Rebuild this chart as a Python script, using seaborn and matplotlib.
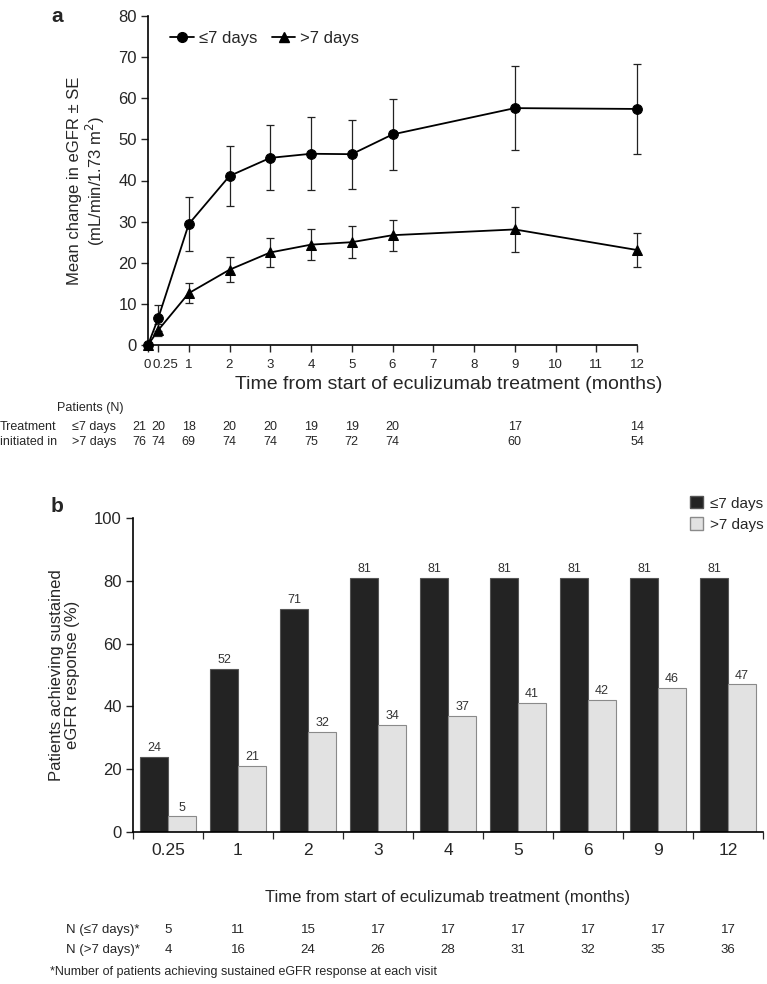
import numpy as np
import pandas as pd
import matplotlib
matplotlib.use("Agg")
import matplotlib.pyplot as plt
from matplotlib.lines import Line2D
from matplotlib.patches import Patch
import matplotlib.transforms as mtransforms
import seaborn as sns

# ---------------- data ----------------
months_a = [0, 0.25, 1, 2, 3, 4, 5, 6, 9, 12]
early_mean = [0, 6.5, 29.4, 41.1, 45.5, 46.5, 46.4, 51.2, 57.6, 57.4]
early_se = [0, 3.2, 6.5, 7.3, 7.9, 8.9, 8.4, 8.7, 10.2, 11.0]
late_mean = [0, 3.6, 12.6, 18.3, 22.5, 24.4, 25.0, 26.7, 28.1, 23.1]
late_se = [0, 1.5, 2.5, 3.1, 3.6, 3.8, 3.9, 3.8, 5.4, 4.2]
n_early_a = [21, 20, 18, 20, 20, 19, 19, 20, 17, 14]
n_late_a = [76, 74, 69, 74, 74, 75, 72, 74, 60, 54]
xticks_a = [0, 0.25, 1, 2, 3, 4, 5, 6, 7, 8, 9, 10, 11, 12]
xticklabels_a = ["0", "0.25", "1", "2", "3", "4", "5", "6", "7", "8", "9", "10", "11", "12"]

months_b = ["0.25", "1", "2", "3", "4", "5", "6", "9", "12"]
pct_early = [24, 52, 71, 81, 81, 81, 81, 81, 81]
pct_late = [5, 21, 32, 34, 37, 41, 42, 46, 47]
n_early_b = [5, 11, 15, 17, 17, 17, 17, 17, 17]
n_late_b = [4, 16, 24, 26, 28, 31, 32, 35, 36]

groups = ["\u22647 days", ">7 days"]

# ---------------- style ----------------
sns.set_theme(style="ticks")
plt.rcParams["font.family"] = ["Liberation Sans", "DejaVu Sans"]

W, H = 767, 984
fig = plt.figure(figsize=(W / 100, H / 100), dpi=100)

def fx(px):
    return px / W

def fy(py):
    return 1 - py / H

# ---------------- panel a ----------------
axa = fig.add_axes([fx(148), fy(345), fx(637) - fx(148), fy(16) - fy(345)])
df_a = pd.DataFrame({
    "month": months_a * 2,
    "value": early_mean + late_mean,
    "se": early_se + late_se,
    "group": [groups[0]] * len(months_a) + [groups[1]] * len(months_a),
})
sns.lineplot(data=df_a, x="month", y="value", hue="group", style="group",
             palette={groups[0]: "black", groups[1]: "black"},
             markers={groups[0]: "o", groups[1]: "^"}, dashes=False,
             markersize=7, linewidth=1.3, markeredgecolor="black",
             legend=False, ax=axa, clip_on=False, zorder=3)
for g in groups:
    sub = df_a[df_a["group"] == g]
    cont = axa.errorbar(sub["month"][1:], sub["value"][1:], yerr=sub["se"][1:], fmt="none",
                        ecolor="#222222", elinewidth=0.9, capsize=3, capthick=0.9, zorder=2)
    for art in cont.lines[1]:
        art.set_clip_on(False)
    for art in cont.lines[2]:
        art.set_clip_on(False)

axa.set_xlim(0, 12)
axa.set_ylim(0, 80)
axa.set_yticks(np.arange(0, 81, 10))
axa.set_xticks(xticks_a)
axa.set_xticklabels(xticklabels_a, fontsize=9.5)
axa.tick_params(axis="y", labelsize=12, length=5, width=1, direction="out", pad=3)
axa.tick_params(axis="x", length=5, width=1, direction="out", pad=5)
# nudge the crowded first two tick labels apart
lbls = axa.get_xticklabels()
lbls[0].set_transform(lbls[0].get_transform() +
                      mtransforms.ScaledTranslation(-1 / 100, 0, fig.dpi_scale_trans))
lbls[1].set_transform(lbls[1].get_transform() +
                      mtransforms.ScaledTranslation(7 / 100, 0, fig.dpi_scale_trans))
for s in ["top", "right"]:
    axa.spines[s].set_visible(False)
for s in ["left", "bottom"]:
    axa.spines[s].set_linewidth(1.2)
    axa.spines[s].set_color("black")
axa.set_xlabel("Time from start of eculizumab treatment (months)", fontsize=14)
axa.xaxis.set_label_coords((449 - 148) / 489, -0.093)
axa.set_ylabel("Mean change in eGFR \u00b1 SE\n(mL/min/1.73 m$^2$)", fontsize=12, labelpad=8,
               linespacing=1.1)

handles_a = [
    Line2D([], [], color="black", marker="o", markersize=7, lw=1.3),
    Line2D([], [], color="black", marker="^", markersize=7, lw=1.3),
]
axa.legend(handles_a, groups, loc="upper left", bbox_to_anchor=(0.015, 1.0), ncol=2,
           frameon=False, fontsize=12, handlelength=1.4, handletextpad=0.3,
           columnspacing=0.9)

fig.text(fx(57), fy(17), "a", fontsize=15, fontweight="bold", ha="center", va="center")

# patients table (a)
tfs = 9
fig.text(fx(57), fy(408), "Patients (N)", fontsize=tfs, va="center", ha="left")
fig.text(fx(0), fy(427), "Treatment", fontsize=tfs, va="center", ha="left")
fig.text(fx(0), fy(442), "initiated in", fontsize=tfs, va="center", ha="left")
fig.text(fx(72), fy(427), groups[0], fontsize=tfs, va="center", ha="left")
fig.text(fx(72), fy(442), groups[1], fontsize=tfs, va="center", ha="left")
trans_a = mtransforms.blended_transform_factory(axa.transData, fig.transFigure)
for i, m in enumerate(months_a):
    ha = "right" if i == 0 else "center"
    xx = m - 0.03 if i == 0 else m
    fig.text(xx, fy(427), str(n_early_a[i]), transform=trans_a, fontsize=tfs,
             ha=ha, va="center")
    fig.text(xx, fy(442), str(n_late_a[i]), transform=trans_a, fontsize=tfs,
             ha=ha, va="center")

# ---------------- panel b ----------------
axb = fig.add_axes([fx(133), fy(832), fx(763) - fx(133), fy(518) - fy(832)])
df_b = pd.DataFrame({
    "month": months_b * 2,
    "pct": pct_early + pct_late,
    "group": [groups[0]] * len(months_b) + [groups[1]] * len(months_b),
})
sns.barplot(data=df_b, x="month", y="pct", hue="group", order=months_b, hue_order=groups,
            palette={groups[0]: "#232323", groups[1]: "#e2e2e2"}, width=0.8,
            legend=False, ax=axb, zorder=2)
for cont, g in zip(axb.containers, groups):
    for p in cont.patches:
        p.set_edgecolor("#555555" if g == groups[0] else "#8a8a8a")
        p.set_linewidth(0.8)
    axb.bar_label(cont, fontsize=9, color="#333333", padding=2)

axb.set_xlim(-0.5, len(months_b) - 0.5)
axb.set_ylim(0, 100)
axb.set_yticks(np.arange(0, 101, 20))
axb.set_xticks(range(len(months_b)))
axb.set_xticklabels(months_b, fontsize=12.5)
axb.set_xticks(np.arange(-0.5, len(months_b), 1.0), minor=True)
axb.tick_params(axis="x", which="major", length=0, pad=8)
axb.tick_params(axis="x", which="minor", length=5, width=0.9, direction="out")
axb.tick_params(axis="y", labelsize=12, length=5, width=1, direction="out", pad=3)
for s in ["top", "right"]:
    axb.spines[s].set_visible(False)
for s in ["left", "bottom"]:
    axb.spines[s].set_linewidth(1.2)
    axb.spines[s].set_color("black")
axb.set_xlabel("Time from start of eculizumab treatment (months)", fontsize=12,
               labelpad=23)
axb.set_ylabel("Patients achieving sustained\neGFR response (%)", fontsize=12, labelpad=10,
               linespacing=1.1)

handles_b = [Patch(facecolor="#232323", edgecolor="#555555"),
             Patch(facecolor="#e2e2e2", edgecolor="#8a8a8a")]
fig.legend(handles_b, groups, loc="center left", bbox_to_anchor=(fx(676), fy(514)),
           frameon=False, fontsize=11, handlelength=0.85, handleheight=0.85,
           handletextpad=0.45, labelspacing=0.45)

fig.text(fx(57), fy(506), "b", fontsize=15, fontweight="bold", ha="center", va="center")

# N table (b)
fig.text(fx(66), fy(930), "N (\u22647 days)*", fontsize=9.5, va="center", ha="left")
fig.text(fx(66), fy(950), "N (>7 days)*", fontsize=9.5, va="center", ha="left")
trans_b = mtransforms.blended_transform_factory(axb.transData, fig.transFigure)
for i in range(len(months_b)):
    fig.text(i, fy(930), str(n_early_b[i]), transform=trans_b, fontsize=9.5,
             ha="center", va="center")
    fig.text(i, fy(950), str(n_late_b[i]), transform=trans_b, fontsize=9.5,
             ha="center", va="center")
fig.text(fx(50), fy(972), "*Number of patients achieving sustained eGFR response at each visit",
         fontsize=9, va="center", ha="left")

fig.savefig("out.png", dpi=100)
